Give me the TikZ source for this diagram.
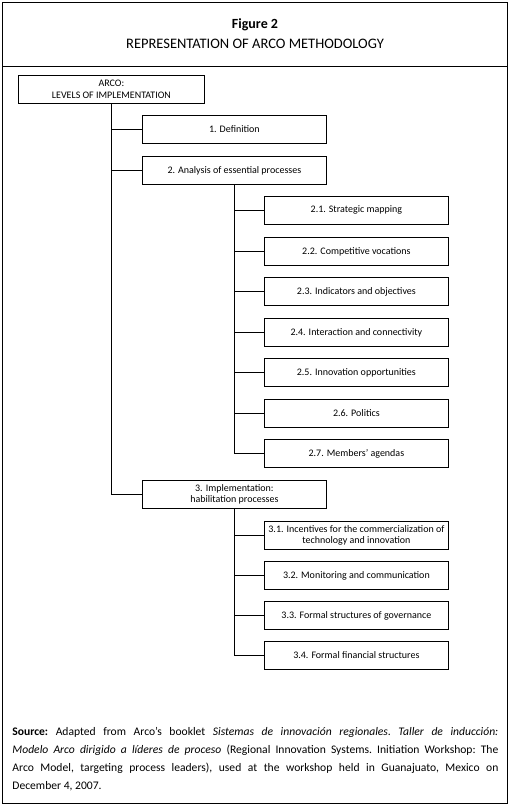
\documentclass[tikz,border=0pt]{standalone}
\usepackage{fontspec}
\setmainfont{Carlito}
\begin{document}
\begin{tikzpicture}[x=1pt,y=-1pt,line width=0.8pt,
  box/.style={draw, line width=0.8pt, minimum width=184pt, minimum height=28pt, inner sep=0pt,
    align=center, anchor=north west, font=\fontsize{10}{11.5}\selectfont},
  conn/.style={draw, line width=0.8pt}]
\useasboundingbox (0,0) rectangle (510,806);
\draw (2,2) rectangle (507,803);
\draw (2,66) -- (507,66);
\node[font=\fontsize{14}{16}\selectfont\bfseries] (fig) at (255,25) {Figure 2};
\node[font=\fontsize{14.5}{16}\selectfont] (title) at (255,44) {REPRESENTATION OF ARCO METHODOLOGY};

\node[box, minimum width=186pt] (arco) at (18,75) {ARCO:\\LEVELS OF IMPLEMENTATION};
\node[box] (d1) at (142,115) {1. Definition};
\node[box] (d2) at (142,156) {2. Analysis of essential processes};
\node[box] (d21) at (264,196) {2.1. Strategic mapping};
\node[box] (d22) at (264,237) {2.2. Competitive vocations};
\node[box] (d23) at (264,277) {2.3. Indicators and objectives};
\node[box] (d24) at (264,318) {2.4. Interaction and connectivity};
\node[box] (d25) at (264,358) {2.5. Innovation opportunities};
\node[box] (d26) at (264,399) {2.6. Politics};
\node[box] (d27) at (264,439) {2.7. Members’ agendas};
\node[box] (d3) at (142,480) {3. Implementation:\\habilitation processes};
\node[box] (d31) at (264,521) {3.1. Incentives for the commercialization of\\technology and innovation};
\node[box] (d32) at (264,561) {3.2. Monitoring and communication};
\node[box] (d33) at (264,601) {3.3. Formal structures of governance};
\node[box] (d34) at (264,641) {3.4. Formal financial structures};

\draw[conn] (arco.south) -- (arco.south |- d3.west) -- (d3.west);
\draw[conn] (arco.south |- d1.west) -- (d1.west);
\draw[conn] (arco.south |- d2.west) -- (d2.west);

\draw[conn] (d2.south) -- (d2.south |- d27.west) -- (d27.west);
\foreach \n in {d21,d22,d23,d24,d25,d26}
  \draw[conn] (d2.south |- \n.west) -- (\n.west);

\draw[conn] (d3.south) -- (d3.south |- d34.west) -- (d34.west);
\foreach \n in {d31,d32,d33}
  \draw[conn] (d3.south |- \n.west) -- (\n.west);

\node[anchor=north west, inner sep=0pt, text width=486pt, align=justify,
  font=\fontsize{11.6}{18}\selectfont\frenchspacing] (src) at (12,727)
  {\textbf{Source:} Adapted from Arco’s booklet \textit{Sistemas de innovación regionales. Taller de inducción:}\linebreak
  \textit{Modelo Arco dirigido a líderes de proceso} (Regional Innovation Systems. Initiation Workshop: The\linebreak
  Arco Model, targeting process leaders), used at the workshop held in Guanajuato, Mexico on\linebreak
  December 4, 2007.};
\end{tikzpicture}
\end{document}
